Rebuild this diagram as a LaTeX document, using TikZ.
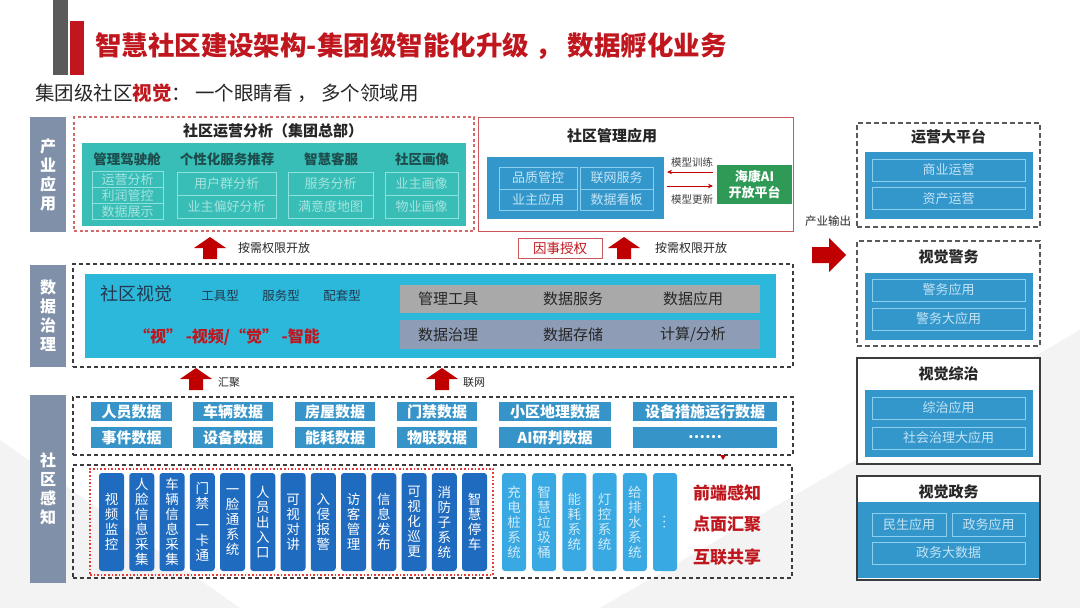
\documentclass[tikz,border=0pt]{standalone}
\usepackage{fontspec}
\setmainfont{Noto Sans CJK SC}
\usetikzlibrary{arrows.meta}
\definecolor{titlered}{HTML}{C0161E}
\definecolor{barg}{HTML}{5A5A5A}
\definecolor{lblc}{HTML}{8090A9}
\definecolor{tealc}{HTML}{38BEB6}
\definecolor{tealhead}{HTML}{1E4D4E}
\definecolor{tealline}{HTML}{8CE3DD}
\definecolor{tealtxt}{HTML}{A6E3DF}
\definecolor{bluec}{HTML}{3397CC}
\definecolor{blueline}{HTML}{8CCFEF}
\definecolor{bluetxt}{HTML}{C4E4F5}
\definecolor{greenc}{HTML}{2E9A55}
\definecolor{cyanc}{HTML}{2CB8DA}
\definecolor{govtxt}{HTML}{24384F}
\definecolor{grayc}{HTML}{A9A9A9}
\definecolor{graybc}{HTML}{8E9CB6}
\definecolor{datab}{HTML}{3794C8}
\definecolor{vdarkc}{HTML}{1E6BC0}
\definecolor{vlightc}{HTML}{38A9E3}
\definecolor{vlighttxt}{HTML}{D2ECF9}
\definecolor{arrred}{HTML}{C00000}
\definecolor{rline}{HTML}{C9575C}
\definecolor{rdashc}{HTML}{D36A6A}
\definecolor{dotred}{HTML}{E53935}
\definecolor{dashc}{HTML}{3C3C3C}
\definecolor{bgA}{HTML}{F3F3F3}
\newcommand\fz[2]{\fontsize{#1pt}{#2pt}\selectfont}
\newcommand\redup[3]{\fill[arrred] (#1-16,#2+11) -- (#1,#2) -- (#1+16,#2+11) -- (#1+7,#2+11) -- (#1+7,#3) -- (#1-7,#3) -- (#1-7,#2+11) -- cycle;}
\begin{document}
\begin{tikzpicture}[x=1pt,y=-1pt,
  every node/.style={inner sep=0pt,outer sep=0pt},
  lbl/.style={fill=lblc,text=white,font=\bfseries\fz{16}{19},align=center,minimum width=36pt},
  tealbox/.style={fill=tealc},
  thead/.style={font=\bfseries\fz{13.5}{15},text=tealhead},
  tsub/.style={draw=tealline,line width=0.8pt,text=tealtxt,font=\fz{13}{14}},
  bluebox/.style={fill=bluec},
  bsub/.style={draw=blueline,line width=0.8pt,text=bluetxt,font=\fz{13}{14}},
  ptitle/.style={font=\bfseries\fz{15}{17},text=black!85},
  dlabel/.style={fill=datab,text=white,font=\bfseries\fz{15}{16}},
  vdark/.style={fill=vdarkc,rounded corners=3pt,text=white,font=\fz{13.5}{15},align=center,minimum width=25pt,minimum height=98pt},
  vlight/.style={fill=vlightc,rounded corners=3pt,text=vlighttxt,font=\fz{13.5}{15},align=center,minimum width=24pt,minimum height=98pt},
  bdash/.style={draw=dashc,dash pattern=on 4pt off 3pt,line width=1.2pt},
  pdash/.style={draw=dashc!85,dash pattern=on 5pt off 3pt,line width=1.5pt,fill=white},
  psolid/.style={draw=dashc,line width=1.4pt},
  rdash/.style={draw=rdashc,dash pattern=on 3pt off 2.5pt,line width=1.1pt},
  gtxt/.style={font=\fz{15}{17},text=black!85},
  smalltxt/.style={font=\fz{11.5}{13},text=black!85},
  redtxt/.style={font=\bfseries\fz{17}{19},text=titlered},
  marr/.style={-{Stealth[length=5pt,width=4.5pt]},draw=arrred,line width=1pt}]
\useasboundingbox (0,0) rectangle (1080,608);
\fill[white] (0,0) rectangle (1080,608);
\fill[bgA] (0,440) -- (240,608) -- (0,608) -- cycle;
\fill[bgA] (600,608) -- (1080,330) -- (1080,608) -- cycle;
% decorative bars
\fill[barg] (53,0) rectangle (68,75);
\fill[titlered] (70,21) rectangle (84,75);
\node[anchor=west,text=titlered,font=\bfseries\fz{26.5}{29}] (title) at (95,46) {智慧社区建设架构-集团级智能化升级 ， 数据孵化业务};
\node[anchor=west,font=\fz{19.5}{21},text=black!85] (subtitle) at (35,93) {集团级社区\textcolor{titlered}{\bfseries 视觉}： 一个眼睛看 ， 多个领域用};
% left labels
\node[lbl,minimum height=115pt] (L1) at (48,174.5) {产\\业\\应\\用};
\node[lbl,minimum height=102pt] (L2) at (48,316) {数\\据\\治\\理};
\node[lbl,minimum height=188pt] (L3) at (48,489) {社\\区\\感\\知};
% top-left: operations analysis
\node[rdash,minimum width=400pt,minimum height=114pt] (ops) at (274,174) {};
\node[ptitle] (opsT) at (273,131) {社区运营分析（集团总部）};
\node[tealbox,minimum width=384pt,minimum height=83pt] (opsB) at (274,184.5) {};
\node[thead] (h1) at (127,159) {管理驾驶舱};
\node[thead] (h2) at (227,159) {个性化服务推荐};
\node[thead] (h3) at (331,159) {智慧客服};
\node[thead] (h4) at (422,159) {社区画像};
\node[tsub,minimum width=71pt,minimum height=16pt] (s11) at (127.5,179.5) {运营分析};
\node[tsub,minimum width=71pt,minimum height=16pt] (s12) at (127.5,195.5) {利润管控};
\node[tsub,minimum width=71pt,minimum height=16pt] (s13) at (127.5,211.5) {数据展示};
\node[tsub,minimum width=99pt,minimum height=23pt] (s21) at (226.5,183.5) {用户群分析};
\node[tsub,minimum width=99pt,minimum height=23pt] (s22) at (226.5,206.5) {业主偏好分析};
\node[tsub,minimum width=85pt,minimum height=23pt] (s31) at (330.5,183.5) {服务分析};
\node[tsub,minimum width=85pt,minimum height=23pt] (s32) at (330.5,206.5) {满意度地图};
\node[tsub,minimum width=73pt,minimum height=23pt] (s41) at (421.5,183.5) {业主画像};
\node[tsub,minimum width=73pt,minimum height=23pt] (s42) at (421.5,206.5) {物业画像};
% top-middle: management applications
\node[draw=rline,line width=0.9pt,minimum width=315pt,minimum height=114pt] (mgmtF) at (635.5,174) {};
\node[ptitle] (mgmtT) at (612,136) {社区管理应用};
\node[bluebox,minimum width=177pt,minimum height=62pt] (mgmt) at (575.5,188) {};
\node[bsub,minimum width=78pt,minimum height=22pt] (m1) at (538,178) {品质管控};
\node[bsub,minimum width=78pt,minimum height=21pt] (m2) at (538,199.5) {业主应用};
\node[bsub,minimum width=73pt,minimum height=22pt] (m3) at (616.5,178) {联网服务};
\node[bsub,minimum width=73pt,minimum height=21pt] (m4) at (616.5,199.5) {数据看板};
\node[fill=greenc,text=white,font=\bfseries\fz{13}{16},align=center,minimum width=75pt,minimum height=39pt] (hk) at (754.5,184.5) {海康AI\\开放平台};
\coordinate (ya) at (0,172);
\coordinate (yb) at (0,186);
\draw[marr,shorten <=4pt,shorten >=3pt] (hk.west |- ya) -- (mgmt.east |- ya);
\draw[marr,shorten <=3pt,shorten >=4pt] (mgmt.east |- yb) -- (hk.west |- yb);
\node[font=\fz{10.5}{12},text=black!75] (mt1) at (692,162) {模型训练};
\node[font=\fz{10.5}{12},text=black!75] (mt2) at (692,199) {模型更新};
% permission row
\node[draw=rline,line width=1pt,fill=white,text=titlered,font=\fz{13.5}{15},minimum width=84pt,minimum height=20pt] (auth) at (560,248) {因事授权};
\redup{210}{237}{259}
\redup{624}{237}{259}
\node[font=\fz{12}{14},text=black!85] (open1) at (274,248) {按需权限开放};
\node[font=\fz{12}{14},text=black!85] (open2) at (691,248) {按需权限开放};
\node[smalltxt] (out) at (828,221) {产业输出};
\fill[arrred] (812,247) -- (829,247) -- (829,238) -- (846,255) -- (829,272) -- (829,263) -- (812,263) -- cycle;
% right panels
\node[pdash,minimum width=183pt,minimum height=104pt] (p1) at (948.5,175) {};
\node[ptitle] (p1t) at (948.5,137) {运营大平台};
\node[bluebox,minimum width=168pt,minimum height=67pt] (p1b) at (949,185.5) {};
\node[bsub,minimum width=153pt,minimum height=22pt] (p1s1) at (948.5,170) {商业运营};
\node[bsub,minimum width=153pt,minimum height=22pt] (p1s2) at (948.5,198.5) {资产运营};
\node[pdash,minimum width=183pt,minimum height=105pt] (p2) at (948.5,293.5) {};
\node[ptitle] (p2t) at (948.5,257) {视觉警务};
\node[bluebox,minimum width=168pt,minimum height=67pt] (p2b) at (949,306.5) {};
\node[bsub,minimum width=153pt,minimum height=22pt] (p2s1) at (948.5,290) {警务应用};
\node[bsub,minimum width=153pt,minimum height=22pt] (p2s2) at (948.5,319) {警务大应用};
\node[psolid,fill=white,minimum width=183pt,minimum height=106pt] (p3) at (948.5,411) {};
\node[ptitle] (p3t) at (948.5,374) {视觉综治};
\node[bluebox,minimum width=168pt,minimum height=67pt] (p3b) at (949,423.5) {};
\node[bsub,minimum width=153pt,minimum height=22pt] (p3s1) at (948.5,408) {综治应用};
\node[bsub,minimum width=153pt,minimum height=22pt] (p3s2) at (948.5,438) {社会治理大应用};
\node[fill=white,minimum width=183pt,minimum height=104pt] (p4) at (948.5,528) {};
\node[ptitle] (p4t) at (948.5,492) {视觉政务};
\node[bluebox,minimum width=183pt,minimum height=76pt] (p4b) at (948.5,540) {};
\draw[psolid] (p4.north west) rectangle (p4.south east);
\node[bsub,minimum width=74pt,minimum height=23pt] (p4s1) at (909,524.5) {民生应用};
\node[bsub,minimum width=73pt,minimum height=23pt] (p4s2) at (988.5,524.5) {政务应用};
\node[bsub,minimum width=153pt,minimum height=22pt] (p4s3) at (948.5,553) {政务大数据};
% data governance
\node[bdash,minimum width=720pt,minimum height=103pt] (gov) at (433,315.5) {};
\node[fill=cyanc,minimum width=691pt,minimum height=84pt] (govB) at (430.5,316) {};
\node[anchor=west,font=\fz{18}{20},text=govtxt] (sv) at (100,294) {社区视觉};
\node[font=\fz{12.5}{14},text=govtxt] (t1) at (220,296) {工具型};
\node[font=\fz{12.5}{14},text=govtxt] (t2) at (281,296) {服务型};
\node[font=\fz{12.5}{14},text=govtxt] (t3) at (342,296) {配套型};
\node[font=\bfseries\fz{16}{18},text=titlered] (sj) at (227,337) {“视” -视频/“觉” -智能};
\node[fill=grayc,minimum width=360pt,minimum height=28pt] (g1) at (580,299) {};
\node[fill=graybc,minimum width=360pt,minimum height=29pt] (g2) at (580,334.5) {};
\node[gtxt] (g11) at (448,299) {管理工具};
\node[gtxt] (g12) at (573,299) {数据服务};
\node[gtxt] (g13) at (693,299) {数据应用};
\node[gtxt] (g21) at (448,334.5) {数据治理};
\node[gtxt] (g22) at (573,334.5) {数据存储};
\node[gtxt] (g23) at (693,334.5) {计算/分析};
\redup{196}{368}{390}
\redup{442}{368}{390}
\node[font=\fz{11}{13},text=black!85] (hj) at (229,382) {汇聚};
\node[font=\fz{11}{13},text=black!85] (lw) at (474,382) {联网};
% data
\node[bdash,minimum width=720pt,minimum height=58pt] (dat) at (433,426) {};
\node[dlabel,minimum width=81pt,minimum height=19pt] (d11) at (131.5,411.5) {人员数据};
\node[dlabel,minimum width=80pt,minimum height=19pt] (d12) at (233,411.5) {车辆数据};
\node[dlabel,minimum width=80pt,minimum height=19pt] (d13) at (335,411.5) {房屋数据};
\node[dlabel,minimum width=80pt,minimum height=19pt] (d14) at (437,411.5) {门禁数据};
\node[dlabel,minimum width=112pt,minimum height=19pt] (d15) at (555,411.5) {小区地理数据};
\node[dlabel,minimum width=144pt,minimum height=19pt] (d16) at (705,411.5) {设备措施运行数据};
\node[dlabel,minimum width=81pt,minimum height=21pt] (d21) at (131.5,437.5) {事件数据};
\node[dlabel,minimum width=80pt,minimum height=21pt] (d22) at (233,437.5) {设备数据};
\node[dlabel,minimum width=80pt,minimum height=21pt] (d23) at (335,437.5) {能耗数据};
\node[dlabel,minimum width=80pt,minimum height=21pt] (d24) at (437,437.5) {物联数据};
\node[dlabel,minimum width=112pt,minimum height=21pt] (d25) at (555,437.5) {AI研判数据};
\node[dlabel,minimum width=144pt,minimum height=21pt] (d26) at (705,437.5) {……};
\fill[arrred] (720,455) -- (726,455) -- (723,460) -- cycle;
% perception
\node[bdash,minimum width=719pt,minimum height=113pt] (per) at (432.5,521.5) {};
\node[draw=dotred,dotted,line width=1.6pt,minimum width=403pt,minimum height=106pt] (dots) at (291.5,522) {};
\foreach \t [count=\i from 0] in {{视\\频\\监\\控},{人\\脸\\信\\息\\采\\集},{车\\辆\\信\\息\\采\\集},{门\\禁\\[7pt]一\\卡\\通},{一\\脸\\通\\系\\统},{人\\员\\出\\入\\口},{可\\视\\对\\讲},{入\\侵\\报\\警},{访\\客\\管\\理},{信\\息\\发\\布},{可\\视\\化\\巡\\更},{消\\防\\子\\系\\统},{智\\慧\\停\\车}}
  \node[vdark] (v\i) at (111.5+30.25*\i,522) {\t};
\foreach \t [count=\i from 0] in {{充\\电\\桩\\系\\统},{智\\慧\\垃\\圾\\桶},{能\\耗\\系\\统},{灯\\控\\系\\统},{给\\排\\水\\系\\统},{\rotatebox{90}{…}}}
  \node[vlight] (w\i) at (514+30.2*\i,522) {\t};
\node[redtxt] (r1) at (727,493) {前端感知};
\node[redtxt] (r2) at (727,524) {点面汇聚};
\node[redtxt] (r3) at (727,557) {互联共享};
\end{tikzpicture}
\end{document}
